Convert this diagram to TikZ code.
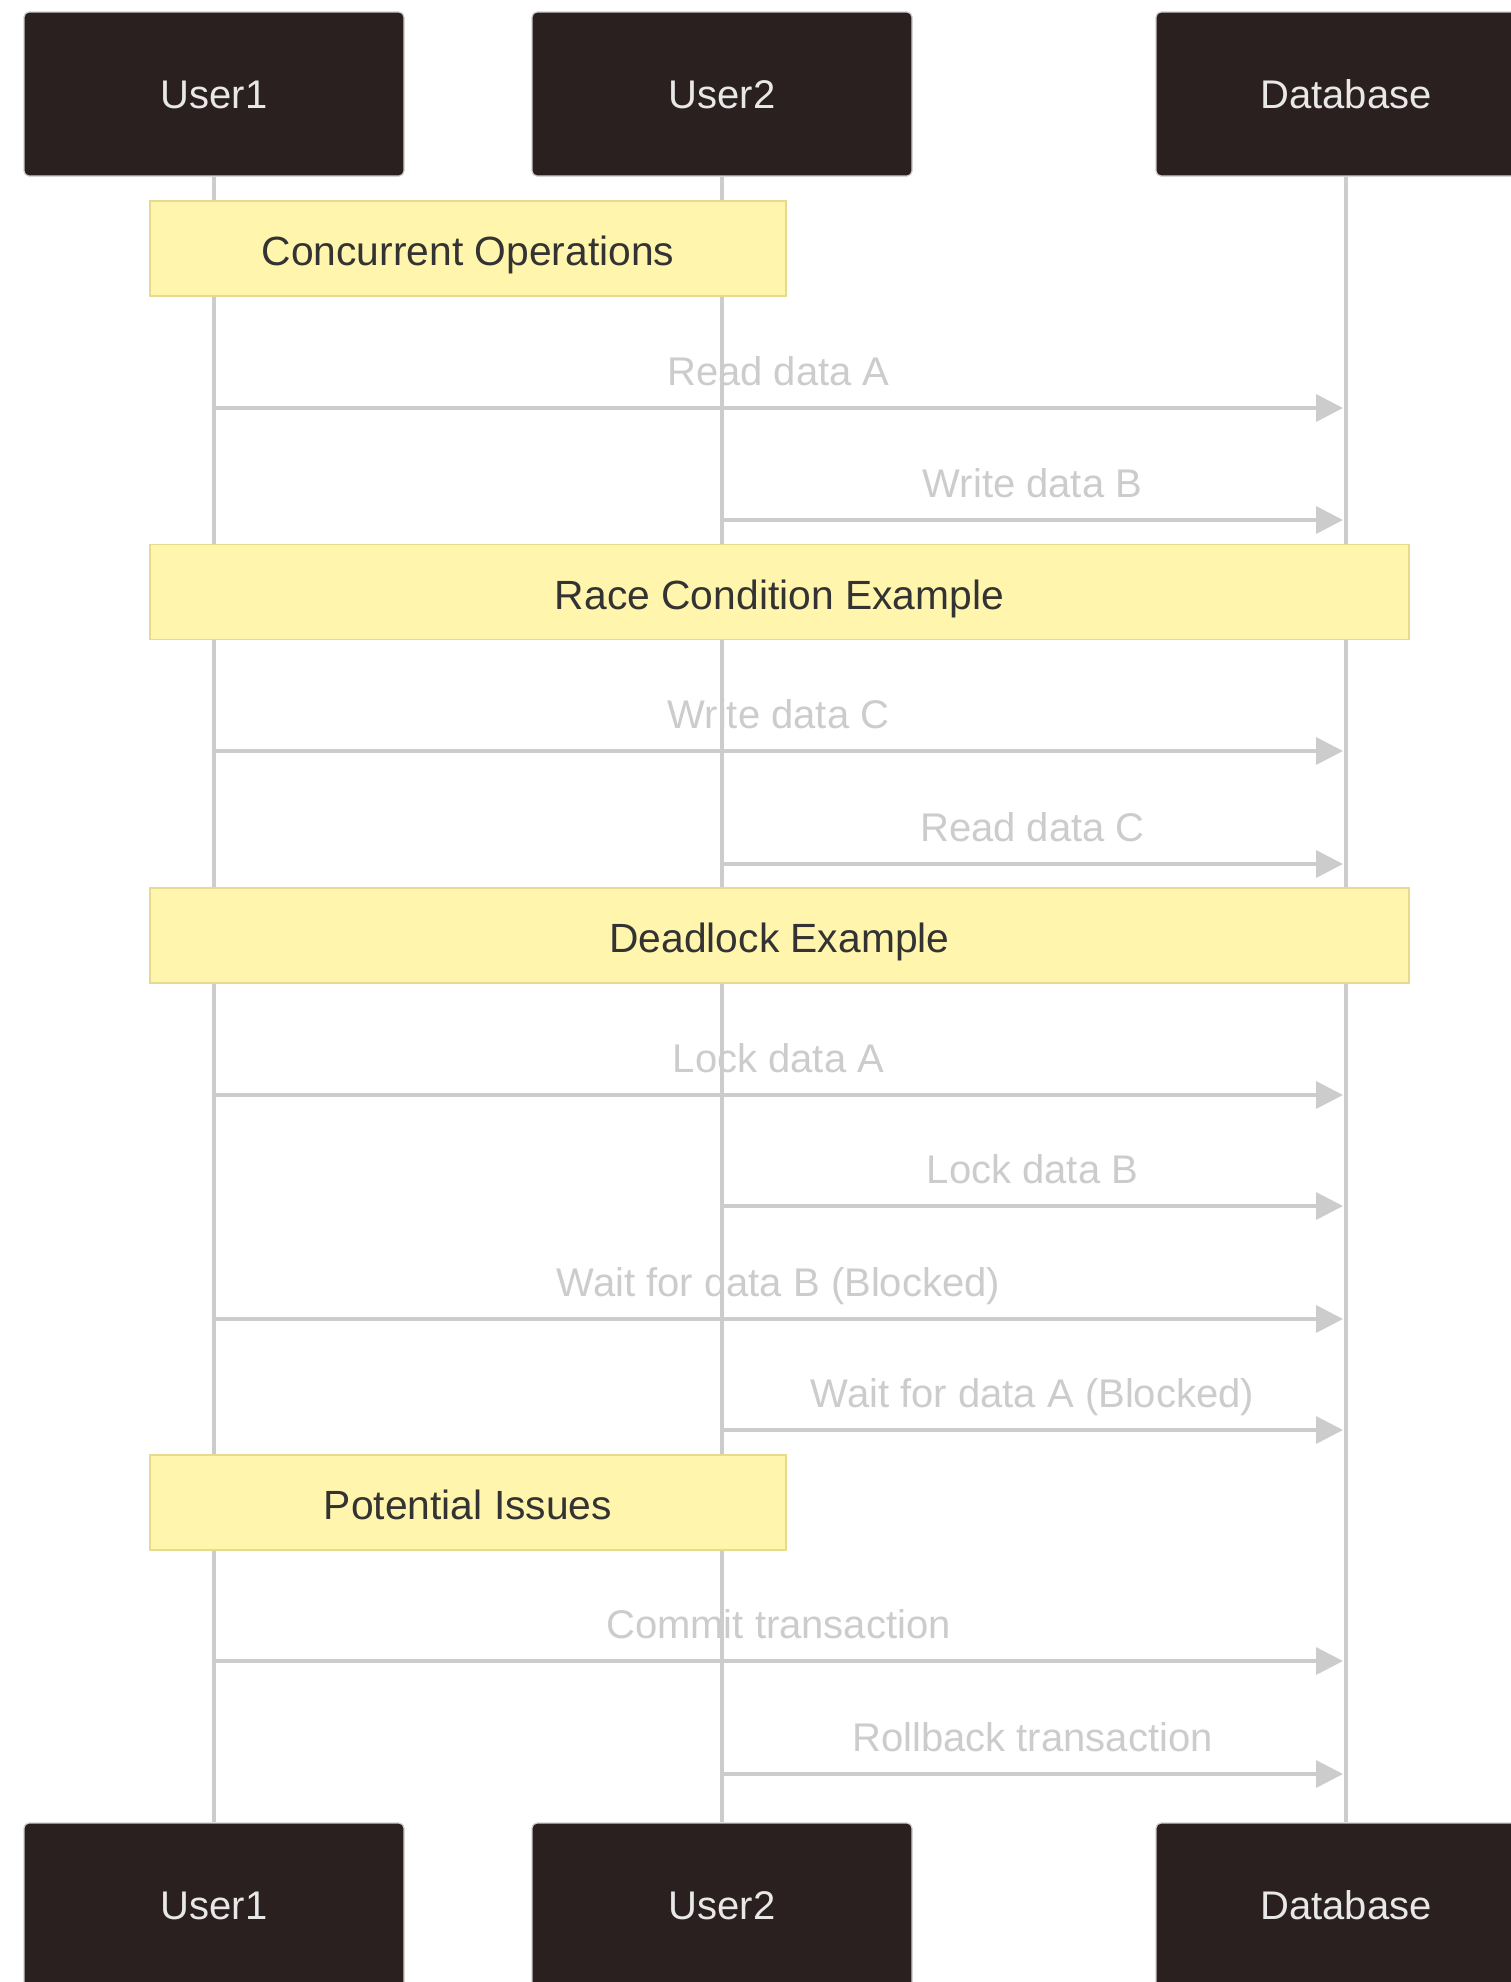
\documentclass[tikz,border=0pt]{standalone}
\usepackage{fontspec}
\setmainfont{Liberation Sans}
\usetikzlibrary{arrows.meta,calc}
\definecolor{actorfill}{HTML}{2B2020}
\definecolor{actortext}{HTML}{E8E8E8}
\definecolor{actoredge}{HTML}{CFCFCF}
\definecolor{lineclr}{HTML}{CCCCCC}
\definecolor{notefill}{HTML}{FFF5AD}
\definecolor{noteedge}{HTML}{E8DA8C}
\definecolor{notetext}{HTML}{333333}

\begin{document}
\begin{tikzpicture}[x=1pt,y=-1pt,
  every node/.style={font=\fontsize{40}{48}\selectfont, text height=29pt, text depth=0pt},
  actor/.style={draw=actoredge, line width=1.2pt, fill=actorfill, text=actortext,
    rounded corners=5pt, minimum width=380pt, minimum height=164pt, inner sep=0pt},
  note/.style={draw=noteedge, line width=1.5pt, fill=notefill, text=notetext,
    font=\fontsize{40.8}{48}\selectfont, text height=34pt,
    inner sep=0pt, minimum height=95pt},
  lifeline/.style={draw=lineclr, line width=3.5pt},
  msg/.style={draw=lineclr, line width=3.5pt, -{Triangle[length=27pt,width=27pt]}},
  msglabel/.style={text=lineclr, inner sep=0pt, anchor=base}
]
% canvas
\fill[white] (0,0) rectangle (1511,1982);
\useasboundingbox (0,0) rectangle (1511,1982);

% participants, top row
\node[actor] (u1t) at (214,94) {User1};
\node[actor] (u2t) at (722,94) {User2};
\node[actor] (dbt) at (1346,94) {Database};

% participants, bottom row
\node[actor] (u1b) at (214,1905) {User1};
\node[actor] (u2b) at (722,1905) {User2};
\node[actor] (dbb) at (1346,1905) {Database};

% lifelines
\draw[lifeline] (u1t.south) -- (u1b.north);
\draw[lifeline] (u2t.south) -- (u2b.north);
\draw[lifeline] (dbt.south) -- (dbb.north);

% section notes
\node[note, minimum width=636pt] (n1) at (468,248.5) {Concurrent Operations};
\node[note, minimum width=1259pt] (n2) at (779.5,592) {Race Condition Example};
\node[note, minimum width=1259pt] (n3) at (779.5,935.5) {Deadlock Example};
\node[note, minimum width=636pt] (n4) at (468,1502.5) {Potential Issues};

% messages to the database
\foreach \src/\yy/\txt [count=\i] in {
  u1t/408/Read data A,
  u2t/520/Write data B,
  u1t/751/Write data C,
  u2t/864/Read data C,
  u1t/1095/Lock data A,
  u2t/1206/Lock data B,
  u1t/1319/Wait for data B (Blocked),
  u2t/1430/Wait for data A (Blocked),
  u1t/1661/Commit transaction,
  u2t/1774/Rollback transaction}{
  \coordinate (s\i) at (\src.south |- 0,\yy);
  \coordinate (e\i) at ($(dbt.south |- 0,\yy)+(-3,0)$);
  \node[msglabel] (l\i) at ($(s\i)!0.5!(e\i)+(0,-23)$) {\txt};
  \draw[msg] (s\i) -- (e\i);
}
\end{tikzpicture}
\end{document}
